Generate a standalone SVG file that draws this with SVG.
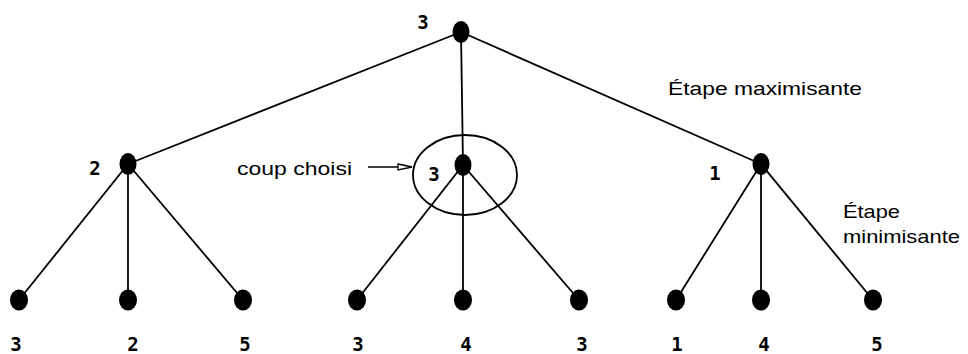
<svg xmlns="http://www.w3.org/2000/svg" width="968" height="354" viewBox="0 0 968 354">
<defs>
<style>
.n{fill:#000}
.e{stroke:#000;stroke-width:1.8;fill:none}
.v{font-family:"DejaVu Sans Mono","Liberation Mono",monospace;font-weight:bold;font-size:19px;fill:#000;text-anchor:middle}
.t{font-family:"Liberation Sans",Arial,sans-serif;font-size:19px;fill:#000}
</style>
<marker id="ah" markerWidth="18" markerHeight="10" refX="15" refY="4" orient="auto" markerUnits="userSpaceOnUse">
<path d="M1,1 L15,4 L1,7 Z" fill="#fff" stroke="#000" stroke-width="1.3"/>
</marker>
</defs>
<rect width="968" height="354" fill="#fff"/>
<g id="connectors" class="e">
<line x1="461" y1="32" x2="128" y2="164"/>
<line x1="461" y1="32" x2="463" y2="165"/>
<line x1="461" y1="32" x2="761" y2="164"/>
<line x1="128" y1="164" x2="19" y2="300"/>
<line x1="128" y1="164" x2="128" y2="300"/>
<line x1="128" y1="164" x2="243" y2="300"/>
<line x1="463" y1="165" x2="357" y2="300"/>
<line x1="463" y1="165" x2="463" y2="300"/>
<line x1="463" y1="165" x2="579" y2="300"/>
<line x1="761" y1="164" x2="676" y2="300"/>
<line x1="761" y1="164" x2="761" y2="300"/>
<line x1="761" y1="164" x2="873" y2="300"/>
<line x1="368" y1="167" x2="412" y2="167" marker-end="url(#ah)" stroke-width="1.6"/>
</g>
<g id="selection">
<ellipse cx="465" cy="175" rx="52" ry="40" class="e" stroke-width="1.5"/>
<text class="t" x="237" y="175" textLength="115" lengthAdjust="spacingAndGlyphs">coup choisi</text>
</g>
<g id="root"><ellipse class="n" cx="461" cy="32" rx="8.5" ry="11"/><text class="v" x="423" y="29">3</text></g>
<g id="min1"><ellipse class="n" cx="128" cy="164" rx="8.5" ry="11"/><text class="v" x="95" y="175">2</text></g>
<g id="min2"><ellipse class="n" cx="463" cy="165" rx="8.5" ry="11"/><text class="v" x="434" y="181">3</text></g>
<g id="min3"><ellipse class="n" cx="761" cy="164" rx="8.5" ry="11"/><text class="v" x="715" y="180">1</text></g>
<g id="leaf1"><ellipse class="n" cx="19" cy="300" rx="9" ry="10.5"/><text class="v" x="16" y="351">3</text></g>
<g id="leaf2"><ellipse class="n" cx="128" cy="300" rx="9" ry="10.5"/><text class="v" x="133" y="351">2</text></g>
<g id="leaf3"><ellipse class="n" cx="243" cy="300" rx="9" ry="10.5"/><text class="v" x="245" y="351">5</text></g>
<g id="leaf4"><ellipse class="n" cx="357" cy="300" rx="9" ry="10.5"/><text class="v" x="358" y="351">3</text></g>
<g id="leaf5"><ellipse class="n" cx="463" cy="300" rx="9" ry="10.5"/><text class="v" x="466" y="351">4</text></g>
<g id="leaf6"><ellipse class="n" cx="579" cy="300" rx="9" ry="10.5"/><text class="v" x="582" y="351">3</text></g>
<g id="leaf7"><ellipse class="n" cx="676" cy="300" rx="9" ry="10.5"/><text class="v" x="677" y="351">1</text></g>
<g id="leaf8"><ellipse class="n" cx="761" cy="300" rx="9" ry="10.5"/><text class="v" x="764" y="351">4</text></g>
<g id="leaf9"><ellipse class="n" cx="873" cy="300" rx="9" ry="10.5"/><text class="v" x="877" y="351">5</text></g>
<g id="labels">
<text class="t" x="668" y="95" textLength="194" lengthAdjust="spacingAndGlyphs">Étape maximisante</text>
<text class="t" x="843" y="218" textLength="57" lengthAdjust="spacingAndGlyphs">Étape</text>
<text class="t" x="843" y="243" textLength="117" lengthAdjust="spacingAndGlyphs">minimisante</text>
</g>
</svg>
